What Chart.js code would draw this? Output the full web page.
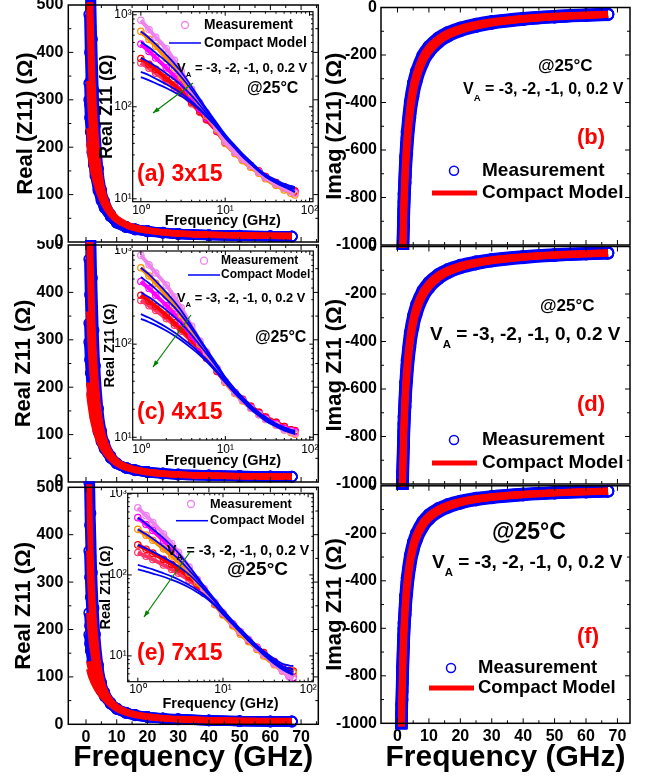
<!DOCTYPE html>
<html>
<head>
<meta charset="utf-8">
<script src="https://cdn.jsdelivr.net/npm/chart.js@4"></script>
<style>
html, body { margin: 0; padding: 0; background: #fff; }
#fig { position: relative; width: 648px; height: 780px; overflow: hidden; background: #fff; }
#fig canvas { position: absolute; }
</style>
</head>
<body>
<div id="fig"></div>
<script>
// frequency points (GHz) shared by every curve
const freqGHz = [1, 1.25, 1.5, 2, 2.5, 3, 4, 5, 6, 8, 10, 13, 16, 20, 25, 30, 40, 50, 60, 67];
const biasV = [-3, -2, -1, 0, 0.2];

// Real Z11 (ohm), one row per bias -- 3x15
const reMeas3x15 = [
 [870, 690, 570, 428, 320, 245, 155, 110, 86, 58, 42, 32, 27, 23, 19.5, 17, 14.5, 13, 12, 11.5],
 [660, 540, 455, 335, 265, 210, 140, 102, 80, 56, 40, 31, 26, 22, 19, 16.5, 14, 12.5, 11.5, 11],
 [480, 400, 340, 265, 215, 178, 125, 95, 76, 55, 41, 32, 27, 23, 19.5, 17, 14.5, 13, 12, 11.8],
 [335, 290, 255, 205, 172, 148, 112, 89, 73, 54, 41, 32, 27, 23, 20, 17.5, 15, 13.5, 12.5, 12.2],
 [300, 262, 232, 190, 162, 140, 108, 87, 72, 54, 41, 32, 27, 23, 20, 17.5, 15, 13.5, 12.5, 12]
];
const reModel3x15 = [
 [660, 560, 480, 370, 295, 240, 165, 122, 95, 66, 50, 38, 31, 25.5, 21, 18.5, 16, 14.5, 13.8, 13.5],
 [505, 440, 385, 310, 255, 212, 152, 115, 91, 64, 49, 37, 30, 25, 20.5, 18, 15.5, 14, 13.2, 13],
 [340, 305, 275, 230, 198, 172, 132, 104, 85, 62, 48, 36.5, 29.5, 24.5, 20.5, 18, 15.5, 14, 13, 12.8],
 [240, 220, 202, 176, 156, 140, 114, 95, 80, 60, 47, 36, 29, 24, 20, 17.5, 15, 13.5, 12.5, 12],
 [210, 194, 180, 160, 144, 131, 109, 92, 78, 59, 46, 35.5, 29, 24, 20, 17.5, 15, 13.5, 12.5, 11.8]
];
// Real Z11 -- 4x15
const reMeas4x15 = [
 [900, 710, 580, 430, 320, 245, 155, 108, 82, 55, 40, 30, 25, 20.5, 17.5, 15.5, 13.5, 12, 11.5, 11],
 [660, 540, 450, 330, 258, 205, 138, 100, 78, 53, 39, 29.5, 24.5, 20.5, 17.5, 15.5, 13.5, 12, 11.2, 10.8],
 [470, 395, 335, 260, 210, 172, 122, 93, 74, 52, 39, 30, 25, 21, 18, 16, 14, 12.5, 11.8, 11.5],
 [335, 290, 255, 205, 170, 145, 110, 87, 71, 51, 39, 30, 25.5, 21.5, 18.5, 16.5, 14.5, 13, 12, 11.8],
 [295, 258, 230, 188, 160, 138, 106, 85, 70, 51, 39, 30, 25.5, 21.5, 18.5, 16.5, 14.5, 13, 12, 11.5]
];
const reModel4x15 = [
 [660, 560, 475, 360, 285, 230, 155, 113, 88, 60, 44, 33, 27, 22, 18.5, 16.5, 14, 12.8, 12, 11.8],
 [525, 450, 390, 305, 248, 205, 145, 108, 85, 58, 43, 32, 26.5, 21.5, 18, 16, 13.8, 12.5, 11.8, 11.5],
 [360, 318, 284, 232, 195, 167, 125, 97, 79, 56, 42, 31.5, 26, 21, 17.8, 15.8, 13.6, 12.3, 11.6, 11.3],
 [210, 192, 176, 152, 133, 118, 96, 80, 68, 51, 40, 30.5, 25, 20.5, 17.2, 15.3, 13.2, 12, 11.3, 11],
 [187, 172, 160, 139, 123, 110, 90, 76, 65, 49, 38.5, 29.5, 24.5, 20, 17, 15, 13, 11.8, 11.2, 10.8]
];
// Real Z11 -- 7x15
const reMeas7x15 = [
 [676, 540, 445, 320, 245, 190, 125, 88, 68, 46, 34, 25, 20, 16, 12.5, 10.5, 8, 6.5, 5.5, 5.2],
 [366, 310, 268, 210, 172, 145, 105, 80, 64, 44, 32, 23.5, 18.5, 15, 12, 10, 7.8, 6.5, 6, 6.2],
 [510, 420, 355, 265, 208, 168, 115, 84, 66, 45, 33, 24.5, 19.5, 15.5, 12.5, 10.5, 8, 6.5, 5.6, 5.4],
 [235, 208, 186, 156, 135, 119, 95, 76, 62, 44, 33, 24.5, 19.5, 15.5, 12.8, 11, 8.5, 7.2, 6.6, 6.5],
 [189, 170, 155, 133, 117, 105, 86, 71, 59, 43, 33, 24.5, 19.5, 15.5, 12.8, 11, 8.5, 7.2, 6.4, 6.2]
];
const reModel7x15 = [
 [510, 430, 368, 285, 228, 186, 128, 94, 73, 50, 37, 27, 21.5, 17, 13.5, 11.5, 9.2, 8, 7.6, 7.5],
 [366, 318, 280, 225, 186, 157, 115, 88, 70, 48, 36, 26.5, 21, 16.5, 13, 11, 8.8, 7.5, 7, 6.8],
 [235, 212, 193, 165, 144, 127, 101, 81, 66, 47, 35, 26, 20.5, 16, 12.8, 10.8, 8.5, 7.2, 6.6, 6.4],
 [133, 124, 117, 105, 96, 88, 75, 65, 57, 43, 33, 25, 20, 15.5, 12.5, 10.5, 8.2, 7, 6.3, 6],
 [117, 110, 104, 95, 87, 81, 70, 61, 54, 42, 32.5, 24.5, 19.5, 15.3, 12.3, 10.3, 8, 6.8, 6.1, 5.8]
];

// Imag Z11 (ohm) -- 3x15
const imMeas3x15 = [
 [-1564, -1251, -1044, -784, -628, -524, -396, -318, -267, -201, -163, -127, -104, -85, -69, -58, -44, -35.4, -29.9, -26.7],
 [-1632, -1306, -1090, -818, -656, -547, -413, -332, -278, -210, -170, -132, -108, -88, -72, -60.5, -46, -37, -31.2, -27.8],
 [-1700, -1360, -1135, -852, -683, -570, -430, -346, -290, -219, -177, -138, -113, -92, -75, -63, -48, -38.5, -32.5, -29],
 [-1768, -1414, -1180, -886, -710, -593, -447, -360, -302, -228, -184, -143.5, -117.5, -95.7, -78, -65.5, -50, -40, -33.8, -30.2],
 [-1836, -1469, -1226, -920, -738, -616, -464, -374, -313, -237, -191, -149, -122, -99.4, -81, -68, -51.8, -41.6, -35.1, -31.3]
];
const imModel3x15 = [
 [-1598, -1278, -1067, -801, -642, -536, -404, -325, -273, -206, -166, -130, -106, -86.5, -70.5, -59, -45, -36, -30.5, -27.3],
 [-1649, -1319, -1101, -826, -663, -553, -417, -336, -281, -212, -172, -134, -110, -89, -73, -61, -46.5, -37.3, -31.5, -28.1],
 [-1700, -1360, -1135, -852, -683, -570, -430, -346, -290, -219, -177, -138, -113, -92, -75, -63, -48, -38.5, -32.5, -29],
 [-1751, -1401, -1169, -878, -703, -587, -443, -356, -299, -226, -182, -142, -116, -95, -77, -65, -49.5, -39.7, -33.5, -29.9],
 [-1802, -1442, -1203, -903, -724, -604, -456, -367, -307, -232, -188, -146, -120, -97.5, -79.5, -67, -51, -40.8, -34.5, -30.7]
];
// Imag Z11 -- 4x15
const imMeas4x15 = [
 [-1426, -1141, -952, -716, -574, -479, -362, -291, -244, -185, -150, -117, -96, -78, -63.5, -53.4, -41, -33.1, -28.1, -25.3],
 [-1488, -1190, -994, -747, -599, -500, -377, -303, -254, -193, -156.5, -122, -100, -81, -66, -55.7, -42.7, -34.6, -29.3, -26.4],
 [-1550, -1240, -1035, -778, -624, -521, -393, -316, -265, -201, -163, -127, -104, -84.5, -69, -58, -44.5, -36, -30.5, -27.5],
 [-1612, -1290, -1076, -809, -649, -542, -409, -329, -276, -209, -169.5, -132, -108, -88, -72, -60.3, -46.3, -37.4, -31.7, -28.6],
 [-1674, -1339, -1118, -840, -674, -563, -424, -341, -286, -217, -176, -137, -112, -91, -74.5, -62.6, -48, -38.9, -32.9, -29.7]
];
const imModel4x15 = [
 [-1457, -1166, -973, -731, -587, -490, -369, -297, -249, -189, -153, -119, -98, -79.4, -64.9, -54.5, -41.8, -33.8, -28.7, -25.9],
 [-1504, -1203, -1004, -755, -605, -505, -381, -307, -257, -195, -158, -123, -101, -82, -66.9, -56.3, -43.2, -34.9, -29.6, -26.7],
 [-1550, -1240, -1035, -778, -624, -521, -393, -316, -265, -201, -163, -127, -104, -84.5, -69, -58, -44.5, -36, -30.5, -27.5],
 [-1597, -1277, -1066, -801, -643, -537, -405, -325, -273, -207, -168, -131, -107, -87, -71, -59.7, -45.8, -37.1, -31.4, -28.3],
 [-1643, -1314, -1097, -825, -661, -552, -417, -335, -281, -213, -173, -135, -110, -89.6, -73.1, -61.5, -47.2, -38.2, -32.3, -29.2]
];
// Imag Z11 -- 7x15
const imMeas7x15 = [
 [-1150, -920, -768, -578, -464, -387, -293, -236, -198, -150, -121, -95, -78, -63.5, -51.5, -43.7, -33.6, -27.1, -23, -20.7],
 [-1200, -960, -802, -603, -484, -404, -305, -246, -206, -156.5, -127, -99, -81.6, -66.2, -53.8, -45.6, -35, -28.3, -24, -21.6],
 [-1250, -1000, -835, -628, -504, -421, -318, -256, -215, -163, -132, -103, -85, -69, -56, -47.5, -36.5, -29.5, -25, -22.5],
 [-1300, -1040, -868, -653, -524, -438, -331, -266, -224, -169.5, -137, -107, -88.4, -71.8, -58.2, -49.4, -38, -30.7, -26, -23.4],
 [-1350, -1080, -902, -678, -544, -455, -343, -276, -232, -176, -142.5, -111, -91.8, -74.5, -60.5, -51.3, -39.4, -31.9, -27, -24.3]
];
const imModel7x15 = [
 [-1175, -940, -785, -590, -474, -396, -299, -241, -202, -153, -124, -97, -80, -64.9, -52.6, -44.7, -34.3, -27.7, -23.5, -21.2],
 [-1213, -970, -810, -609, -489, -408, -308, -248, -209, -158, -128, -100, -82.5, -66.9, -54.3, -46.1, -35.4, -28.6, -24.3, -21.8],
 [-1250, -1000, -835, -628, -504, -421, -318, -256, -215, -163, -132, -103, -85, -69, -56, -47.5, -36.5, -29.5, -25, -22.5],
 [-1288, -1030, -860, -647, -519, -434, -328, -264, -221, -168, -136, -106, -87.6, -71.1, -57.7, -48.9, -37.6, -30.4, -25.8, -23.2],
 [-1325, -1060, -885, -666, -534, -446, -337, -271, -228, -173, -140, -109, -90.1, -73.1, -59.4, -50.4, -38.7, -31.3, -26.5, -23.9]
];

// tick positions
const xTicksMain = [0, 10, 20, 30, 40, 50, 60, 70];
const xMinorMain = [5, 15, 25, 35, 45, 55, 65, 75];
const yTicksReal = [0, 100, 200, 300, 400, 500];
const yMinorReal = [50, 150, 250, 350, 450];
const yTicksImag = [-1000, -800, -600, -400, -200, 0];
const yMinorImag = [-900, -700, -500, -300, -100];
const logTicksX = [1, 10, 100];
const logTicksY = [10, 100, 1000];
const logMinor = [2, 3, 4, 5, 6, 7, 8, 9, 20, 30, 40, 50, 60, 70, 80, 90, 200, 300, 400, 500, 600, 700, 800, 900];

const measColors = ['#ee82ee', '#ff8c00', '#ff00ff', '#ff0000', '#ff3366'];
const BLUE = '#0000ff', RED = '#ff0000', GREEN = '#008000';
const FONT = "'Liberation Sans', Arial, Helvetica, sans-serif";
const SUP = {'0': '\u2070', '1': '\u00b9', '2': '\u00b2', '3': '\u00b3'};

Chart.defaults.font.family = FONT;
Chart.defaults.color = '#000';

const fig = document.getElementById('fig');

function pts(ys) {
 return freqGHz.map((f, i) => ({x: f, y: ys[i]}));
}

function addCanvas(box) {
 const cv = document.createElement('canvas');
 cv.width = box.w;
 cv.height = box.h;
 cv.style.left = box.x + 'px';
 cv.style.top = box.y + 'px';
 cv.style.width = box.w + 'px';
 cv.style.height = box.h + 'px';
 fig.appendChild(cv);
 return cv;
}

// main panels: blue circles = measurement, red line = model
function mainSets(meas, model, w) {
 const sets = [];
 model.forEach((ys, i) => sets.push({
  label: 'Model ' + biasV[i] + ' V', data: pts(ys), showLine: true,
  borderColor: RED, borderWidth: w[0], pointRadius: 0,
  cubicInterpolationMode: 'monotone', order: 0, clip: 3
 }));
 meas.forEach((ys, i) => sets.push({
  label: 'Meas ' + biasV[i] + ' V', data: pts(ys), showLine: true,
  borderColor: BLUE, borderWidth: w[1], pointRadius: w[2], pointBorderWidth: 1.5,
  pointBorderColor: BLUE, pointBackgroundColor: 'rgba(255,255,255,0)',
  cubicInterpolationMode: 'monotone', order: 1, clip: 6
 }));
 return sets;
}

// insets: coloured circles = measurement, blue lines = model
function insetSets(meas, model) {
 const sets = [];
 model.forEach((ys, i) => sets.push({
  label: 'Model ' + biasV[i] + ' V', data: pts(ys), showLine: true,
  borderColor: BLUE, borderWidth: 1.8, pointRadius: 0,
  cubicInterpolationMode: 'monotone', order: 0, clip: 0
 }));
 meas.forEach((ys, i) => sets.push({
  label: 'Meas ' + biasV[i] + ' V', data: pts(ys), showLine: true,
  borderColor: measColors[i], borderWidth: 4, pointRadius: 3.2, pointBorderWidth: 1.2,
  pointBorderColor: measColors[i], pointBackgroundColor: 'rgba(255,255,255,0)',
  cubicInterpolationMode: 'monotone', order: 1, clip: 0
 }));
 return sets;
}

function drawNotes(ctx, notes, ox, oy) {
 ctx.textBaseline = 'middle';
 ctx.textAlign = 'left';
 notes.forEach(n => {
  if (n.t === 'text') {
   ctx.fillStyle = n.color || '#000';
   ctx.font = 'bold ' + n.size + 'px ' + FONT;
   ctx.fillText(n.s, n.x - ox, n.y - oy);
  } else if (n.t === 'va') {
   ctx.fillStyle = '#000';
   let x = n.x - ox;
   const y = n.y - oy;
   ctx.font = 'bold ' + n.size + 'px ' + FONT;
   ctx.fillText('V', x, y);
   x += ctx.measureText('V').width;
   ctx.font = 'bold ' + (n.size * 0.6) + 'px ' + FONT;
   ctx.fillText('A', x, y + n.size * 0.5);
   x += ctx.measureText('A').width;
   ctx.font = 'bold ' + n.size + 'px ' + FONT;
   ctx.fillText(' = -3, -2, -1, 0, 0.2 V', x, y);
  } else if (n.t === 'circle') {
   ctx.strokeStyle = n.color;
   ctx.lineWidth = n.lw;
   ctx.beginPath();
   ctx.arc(n.x - ox, n.y - oy, n.r, 0, Math.PI * 2);
   ctx.stroke();
  } else if (n.t === 'line') {
   ctx.strokeStyle = n.color;
   ctx.lineWidth = n.lw;
   ctx.beginPath();
   ctx.moveTo(n.x1 - ox, n.y - oy);
   ctx.lineTo(n.x2 - ox, n.y - oy);
   ctx.stroke();
  } else if (n.t === 'arrow') {
   const x1 = n.x1 - ox, y1 = n.y1 - oy, x2 = n.x2 - ox, y2 = n.y2 - oy;
   const ang = Math.atan2(y2 - y1, x2 - x1);
   ctx.strokeStyle = GREEN;
   ctx.fillStyle = GREEN;
   ctx.lineWidth = 1.2;
   ctx.beginPath();
   ctx.moveTo(x1, y1);
   ctx.lineTo(x2, y2);
   ctx.stroke();
   ctx.beginPath();
   ctx.moveTo(x2, y2);
   ctx.lineTo(x2 - 7 * Math.cos(ang - 0.35), y2 - 7 * Math.sin(ang - 0.35));
   ctx.lineTo(x2 - 7 * Math.cos(ang + 0.35), y2 - 7 * Math.sin(ang + 0.35));
   ctx.closePath();
   ctx.fill();
  }
 });
}

// frame box, inward ticks on all four sides, white inset background, notes
function decorPlugin(p) {
 return {
  id: 'decor',
  beforeDraw(chart) {
   if (!p.fill) return;
   const a = chart.chartArea, ctx = chart.ctx;
   ctx.save();
   ctx.fillStyle = p.fill;
   ctx.fillRect(a.left, a.top, a.right - a.left, a.bottom - a.top);
   ctx.restore();
  },
  afterDraw(chart) {
   const ctx = chart.ctx, a = chart.chartArea;
   ctx.save();
   ctx.strokeStyle = '#000';
   ctx.lineWidth = 1;
   const mark = (scale, vals, len, horiz) => {
    ctx.beginPath();
    vals.forEach(v => {
     const q = scale.getPixelForValue(v);
     if (horiz) {
      if (q <= a.left + 0.5 || q >= a.right - 0.5) return;
      ctx.moveTo(q, a.bottom); ctx.lineTo(q, a.bottom - len);
      ctx.moveTo(q, a.top); ctx.lineTo(q, a.top + len);
     } else {
      if (q <= a.top + 0.5 || q >= a.bottom - 0.5) return;
      ctx.moveTo(a.left, q); ctx.lineTo(a.left + len, q);
      ctx.moveTo(a.right, q); ctx.lineTo(a.right - len, q);
     }
    });
    ctx.stroke();
   };
   mark(chart.scales.x, p.x.major, p.tick[0], true);
   mark(chart.scales.x, p.x.minor, p.tick[1], true);
   mark(chart.scales.y, p.y.major, p.tick[0], false);
   mark(chart.scales.y, p.y.minor, p.tick[1], false);
   ctx.lineWidth = p.frame;
   ctx.strokeRect(a.left, a.top, a.right - a.left, a.bottom - a.top);
   drawNotes(ctx, p.notes || [], p.box.x, p.box.y);
   ctx.restore();
  }
 };
}

function axis(o, which, size) {
 return {
  type: o.type || 'linear',
  min: o.min,
  max: o.max,
  grid: {display: false, drawTicks: false, tickLength: 0},
  border: {display: false},
  ticks: {
   display: !!o.labels, font: o.tickFont, padding: o.tickPad, color: '#000',
   maxRotation: 0, autoSkip: false,
   callback: o.fmt || (v => String(v))
  },
  title: o.title
   ? {display: true, text: o.title, font: o.titleFont, padding: o.titlePad, color: '#000'}
   : {display: false},
  afterBuildTicks: s => { s.ticks = o.major.map(v => ({value: v})); },
  afterFit: s => {
   if (which === 'x') s.height = size; else s.width = size;
   s.paddingTop = 0; s.paddingBottom = 0; s.paddingLeft = 0; s.paddingRight = 0;
  }
 };
}

function panel(p) {
 const padTop = p.area.t - p.box.y;
 const padRight = p.box.x + p.box.w - p.area.r;
 const yWidth = p.area.l - p.box.x;
 const xHeight = p.box.y + p.box.h - p.padBottom - p.area.b;
 return new Chart(addCanvas(p.box), {
  type: 'scatter',
  data: {datasets: p.datasets},
  options: {
   responsive: false,
   animation: false,
   events: [],
   layout: {autoPadding: false, padding: {top: padTop, right: padRight, bottom: p.padBottom, left: 0}},
   plugins: {legend: {display: false}, tooltip: {enabled: false}},
   scales: {x: axis(p.x, 'x', xHeight), y: axis(p.y, 'y', yWidth)}
  },
  plugins: [decorPlugin(p)]
 });
}

const logFmt = v => '10' + SUP[String(Math.round(Math.log10(v)))];
const tickBold = {size: 16, weight: 'bold'};
const yTitleFont = {size: 22, weight: 'bold'};
const xTitleFont = {size: 30, weight: 'bold'};

function leftMain(box, area, padBottom, title, titlePad, meas, model, last) {
 return panel({
  box, area, padBottom, tick: [5, 3], frame: 1.5,
  datasets: mainSets(meas, model, [6, 10, 5]),
  x: {min: -5.76, max: 75.6, major: xTicksMain, minor: xMinorMain, labels: last, tickFont: tickBold, tickPad: 3.6,
   title: last ? 'Frequency (GHz)' : null, titleFont: xTitleFont, titlePad: {top: 0, bottom: 4}},
  y: {min: 0, max: 500, major: yTicksReal, minor: yMinorReal, labels: true, tickFont: tickBold, tickPad: 5,
   title, titleFont: yTitleFont, titlePad: {top: titlePad, bottom: 0}}
 });
}

function rightMain(box, area, padBottom, title, meas, model, last, notes) {
 return panel({
  box, area, padBottom, tick: [5, 3], frame: 1.5, notes,
  datasets: mainSets(meas, model, [6.5, 12, 5.5]),
  x: {min: -5.25, max: 74, major: xTicksMain, minor: xMinorMain, labels: last, tickFont: tickBold, tickPad: 3.6,
   title: last ? 'Frequency (GHz)' : null, titleFont: xTitleFont, titlePad: {top: 0, bottom: 4}},
  y: {min: -1000, max: 0, major: yTicksImag, minor: yMinorImag, labels: true, tickFont: tickBold, tickPad: 4,
   title, titleFont: yTitleFont, titlePad: {top: 5.8, bottom: 0}}
 });
}

function inset(box, area, padBottom, xr, yr, yTitleSize, yTitlePad, xTitlePad, tickPad, meas, model, notes) {
 return panel({
  box, area, padBottom, tick: [4, 2], frame: 1.2, fill: '#fff', notes,
  datasets: insetSets(meas, model),
  x: {type: 'logarithmic', min: xr[0], max: xr[1], major: logTicksX, minor: logMinor, labels: true,
   tickFont: {size: 12}, tickPad, fmt: logFmt,
   title: 'Frequency (GHz)', titleFont: {size: 14.5, weight: 'bold'}, titlePad: {top: 0, bottom: xTitlePad}},
  y: {type: 'logarithmic', min: yr[0], max: yr[1], major: logTicksY, minor: logMinor, labels: true,
   tickFont: {size: 12}, tickPad: 1, fmt: logFmt,
   title: 'Real Z11 (\u03a9)', titleFont: {size: yTitleSize, weight: 'bold'}, titlePad: {top: yTitlePad, bottom: 0}}
 });
}

// left column: Real Z11
leftMain({x: 0, y: 0, w: 325, h: 250}, {l: 68.3, t: 5, r: 318.3, b: 242}, 8,
 'Real (Z11) (\u03a9)', 12.8, reMeas3x15, reModel3x15, false);
leftMain({x: 0, y: 240, w: 325, h: 250}, {l: 68.3, t: 245, r: 318.3, b: 482}, 8,
 'Real Z11 (\u03a9)', 10.8, reMeas4x15, reModel4x15, false);
leftMain({x: 0, y: 480, w: 325, h: 300}, {l: 68.3, t: 487.3, r: 318.3, b: 724.3}, 0,
 'Real Z11 (\u03a9)', 10.8, reMeas7x15, reModel7x15, true);

// right column: Imag Z11
function rightNotes(c, v, tag, leg) {
 return [
  {t: 'text', s: '@25\u00b0C', x: c[0], y: c[1], size: c[2]},
  {t: 'va', x: v[0], y: v[1], size: v[2]},
  {t: 'text', s: tag[0], x: tag[1], y: tag[2], size: 22, color: RED},
  {t: 'circle', x: leg[0], y: leg[1], r: 4.5, lw: 1.5, color: BLUE},
  {t: 'text', s: 'Measurement', x: leg[2], y: leg[1], size: leg[4]},
  {t: 'line', x1: leg[0] - 22, x2: leg[0] + 23, y: leg[3], lw: 5, color: RED},
  {t: 'text', s: 'Compact Model', x: leg[2], y: leg[3], size: leg[4]}
 ];
}
rightMain({x: 316, y: 0, w: 332, h: 250}, {l: 381, t: 7.5, r: 630, b: 245}, 5,
 'Imag (Z11) (\u03a9)', imMeas3x15, imModel3x15, false,
 rightNotes([538, 66.7, 17], [463, 90, 16], ['(b)', 577, 138], [454, 170.7, 482, 193, 19]));
rightMain({x: 316, y: 240, w: 332, h: 250}, {l: 381, t: 246.5, r: 630, b: 484}, 6,
 'Imag Z11 (\u03a9)', imMeas4x15, imModel4x15, false,
 rightNotes([540, 306.7, 17], [430, 335, 19], ['(d)', 577, 405], [454, 440, 482, 463, 19]));
rightMain({x: 316, y: 480, w: 332, h: 300}, {l: 381, t: 485.8, r: 630, b: 723.3}, 0,
 'Imag Z11 (\u03a9)', imMeas7x15, imModel7x15, true,
 rightNotes([492, 533, 23], [432, 563, 19], ['(f)', 577, 637], [451, 668, 478, 688, 18.5]));

// insets (log-log)
function insetNotes(leg, v, c, tag, arr) {
 return [
  {t: 'circle', x: leg[0], y: leg[1], r: 3.5, lw: 1.3, color: measColors[0]},
  {t: 'text', s: 'Measurement', x: leg[2], y: leg[1], size: leg[5]},
  {t: 'line', x1: leg[3], x2: leg[3] + 32, y: leg[4], lw: 1.5, color: BLUE},
  {t: 'text', s: 'Compact Model', x: leg[2], y: leg[4], size: leg[5]},
  {t: 'va', x: v[0], y: v[1], size: v[2]},
  {t: 'text', s: '@25\u00b0C', x: c[0], y: c[1], size: c[2]},
  {t: 'text', s: tag[0], x: 137, y: tag[1], size: 23, color: RED},
  {t: 'arrow', x1: arr[0], y1: arr[1], x2: arr[2], y2: arr[3]}
 ];
}
inset({x: 95, y: 8, w: 225, h: 222}, {l: 132.7, t: 11.7, r: 313, b: 201.7}, 0,
 [0.8, 110], [9.3, 1080], 18, 1.2, 0.3, 2, reMeas3x15, reModel3x15,
 insetNotes([185, 25, 204, 169, 43, 13.8], [177, 68, 13], [247, 89, 16], ['(a) 3x15', 175], [193, 83, 153, 113]));
inset({x: 95, y: 248, w: 225, h: 222}, {l: 132.7, t: 251, r: 313.3, b: 440}, 0,
 [0.8, 110], [9.35, 1000], 14.5, 6.3, 0.3, 2.5, reMeas4x15, reModel4x15,
 insetNotes([204, 260.7, 221, 188, 275, 12], [177, 298, 12.8], [255, 338, 16], ['(c) 4x15', 413], [191, 315, 153, 367]));
inset({x: 90, y: 490, w: 230, h: 225}, {l: 127.7, t: 493.3, r: 313.3, b: 681.7}, 2.3,
 [0.76, 115], [4.8, 1020], 14.5, 7.3, 0, 1.2, reMeas7x15, reModel7x15,
 insetNotes([191, 504, 210, 176, 520.7, 12.7], [167, 550.7, 14.2], [227, 570, 19], ['(e) 7x15', 654], [190, 552, 144, 617]));
</script>
</body>
</html>
